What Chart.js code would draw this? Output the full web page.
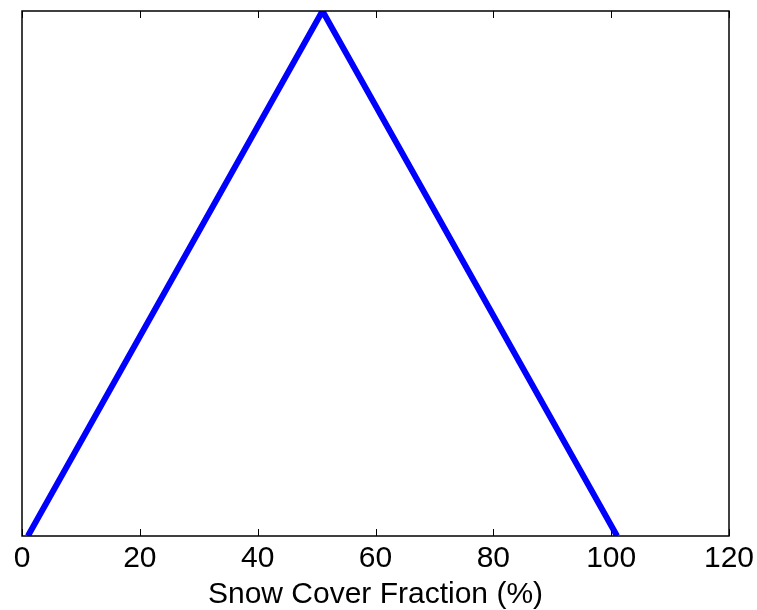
<!DOCTYPE html>
<html>
<head>
<meta charset="utf-8">
<script src="https://cdn.jsdelivr.net/npm/chart.js@4"></script>
<style>
  html, body { margin: 0; padding: 0; background: #fff; }
  #wrap { width: 757px; height: 610px; }
</style>
</head>
<body>
<div id="wrap"><canvas id="myChart" width="757" height="610"></canvas></div>
<script>
// snow cover fraction (%) and the curve height
var snowCover = [1, 51, 101];
var curveVals = [0, 1, 0];
var xTicks = [0, 20, 40, 60, 80, 100, 120];

var pts = [];
for (var i = 0; i < snowCover.length; i++) {
    pts.push({x: snowCover[i], y: curveVals[i]});
}

// matlab style box with inward ticks
var boxPlugin = {
    id: 'box',
    afterDatasetsDraw: function(chart) {
        var ctx = chart.ctx;
        var a = chart.chartArea;
        var xs = chart.scales.x;
        ctx.save();
        ctx.strokeStyle = '#000';
        ctx.lineWidth = 1.5;
        ctx.strokeRect(a.left, a.top, a.right - a.left, a.bottom - a.top);
        ctx.lineWidth = 1;
        xTicks.forEach(function(t) {
            var px = Math.round(xs.getPixelForValue(t)) + 0.5;
            ctx.beginPath();
            ctx.moveTo(px, a.bottom);
            ctx.lineTo(px, a.bottom - 7);
            ctx.moveTo(px, a.top);
            ctx.lineTo(px, a.top + 7);
            ctx.stroke();
        });
        ctx.restore();
    }
};

const ctx = document.getElementById('myChart').getContext('2d');
var myChart = new Chart(ctx, {
    type: 'line',
    data: {
        datasets: [{
            data: pts,
            borderColor: '#0000ff',
            borderWidth: 6,
            pointRadius: 0,
            tension: 0,
            fill: false,
            clip: 0
        }]
    },
    options: {
        responsive: false,
        animation: false,
        layout: { padding: { left: 22, right: 28, top: 11, bottom: 0 } },
        plugins: { legend: { display: false }, tooltip: { enabled: false } },
        scales: {
            x: {
                type: 'linear',
                min: 0,
                max: 120,
                afterBuildTicks: function(s) { s.ticks = xTicks.map(function(v) { return {value: v}; }); },
                afterFit: function(s) {
                    s.paddingLeft = 0;
                    s.paddingRight = 0;
                    s.height = 74;
                },
                grid: { display: false, drawTicks: false },
                border: { display: false },
                ticks: {
                    color: '#000',
                    padding: 8,
                    maxRotation: 0,
                    font: { family: 'Liberation Sans, Arial, sans-serif', size: 30, lineHeight: 1.0 }
                },
                title: {
                    display: true,
                    text: 'Snow Cover Fraction (%)',
                    color: '#000',
                    padding: { top: 7, bottom: 0 },
                    font: { family: 'Liberation Sans, Arial, sans-serif', size: 30, lineHeight: 1.0 }
                }
            },
            y: {
                display: false,
                min: 0,
                max: 1
            }
        }
    },
    plugins: [boxPlugin]
});
</script>
</body>
</html>
